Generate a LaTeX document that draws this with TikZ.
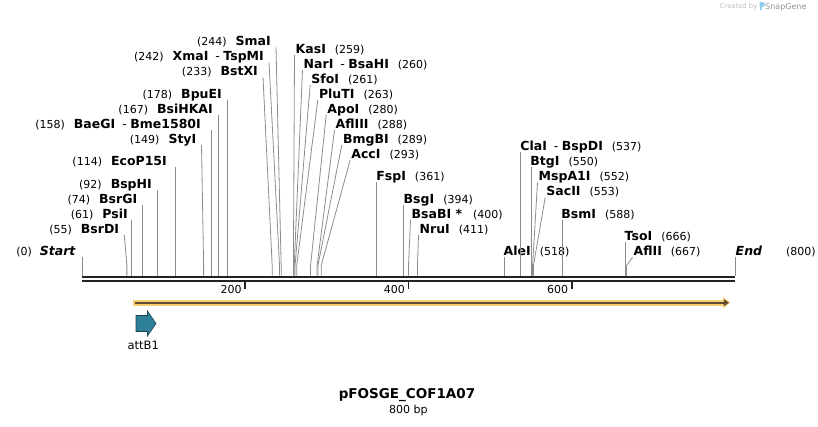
\documentclass[tikz,border=0pt]{standalone}
\usepackage{fontspec}
\setmainfont{DejaVu Sans}
\usetikzlibrary{arrows.meta}

\definecolor{cutgray}{RGB}{140,140,140}
\definecolor{axisdark}{RGB}{34,34,34}
\definecolor{orfyellow}{RGB}{250,204,112}
\definecolor{orfdark}{RGB}{92,76,48}
\definecolor{attteal}{RGB}{46,128,153}
\definecolor{attedge}{RGB}{30,70,85}
\definecolor{creditgray}{RGB}{190,190,190}
\definecolor{logoblue}{RGB}{142,205,240}

\newcommand{\sitepos}[1]{{\mdseries\fontsize{11}{13}\selectfont(#1)}}
\newcommand{\isosep}{\hspace{7pt}{\mdseries-}\hspace{3.5pt}}

\tikzset{
  site/.style={font=\fontsize{12.5}{14}\selectfont\bfseries, text depth=0pt, inner ysep=1.5pt},
  siteL/.style={site, anchor=south east, inner xsep=5pt},
  siteR/.style={site, anchor=south west, inner xsep=1pt},
  cutline/.style={draw=cutgray, line width=0.8pt},
  axisline/.style={draw=axisdark},
  tickmark/.style={draw=axisdark, line width=1.8pt},
  ticklab/.style={anchor=north east, inner sep=0pt, xshift=-3.5pt, yshift=-2.7pt, font=\fontsize{11}{13}\selectfont},
}

\begin{document}
\begin{tikzpicture}[x=1pt,y=-1pt]
\useasboundingbox (0,0) rectangle (818,426);

% positions on the sequence (bp)
\begin{scope}[shift={(82,275.7)},x=0.81625pt]
  \coordinate (p0) at (0,0);
  \coordinate (p55) at (55,0);
  \coordinate (p61) at (61,0);
  \coordinate (p74) at (74,0);
  \coordinate (p92) at (92,0);
  \coordinate (p114) at (114,0);
  \coordinate (p149) at (149,0);
  \coordinate (p158) at (158,0);
  \coordinate (p167) at (167,0);
  \coordinate (p178) at (178,0);
  \coordinate (p233) at (233,0);
  \coordinate (p242) at (242,0);
  \coordinate (p244) at (244,0);
  \coordinate (p259) at (259,0);
  \coordinate (p260) at (260,0);
  \coordinate (p261) at (261,0);
  \coordinate (p263) at (263,0);
  \coordinate (p280) at (280,0);
  \coordinate (p288) at (288,0);
  \coordinate (p289) at (289,0);
  \coordinate (p293) at (293,0);
  \coordinate (p361) at (361,0);
  \coordinate (p394) at (394,0);
  \coordinate (p400) at (400,0);
  \coordinate (p411) at (411,0);
  \coordinate (p518) at (518,0);
  \coordinate (p537) at (537,0);
  \coordinate (p550) at (550,0);
  \coordinate (p552) at (552,0);
  \coordinate (p553) at (553,0);
  \coordinate (p588) at (588,0);
  \coordinate (p666) at (666,0);
  \coordinate (p667) at (667,0);
  \coordinate (p800) at (800,0);
  \coordinate (ax0) at (0,1.3);
  \coordinate (ax1) at (800,1.3);
  \coordinate (bx0) at (0,5.6);
  \coordinate (bx1) at (800,5.6);
  \coordinate (t200) at (200,6.6);
  \coordinate (t400) at (400,6.6);
  \coordinate (t600) at (600,6.6);
  \coordinate (orfA) at (63,27);
  \coordinate (orfB) at (794,27);
\end{scope}

% sequence line
\draw[axisline, line width=2.7pt] (ax0) -- (ax1);
\draw[axisline, line width=2pt] (bx0) -- (bx1);
\draw[tickmark] (t200) -- ++(0,7);
\draw[tickmark] (t400) -- ++(0,7);
\draw[tickmark] (t600) -- ++(0,7);
\node[ticklab] (n200) at (t200) {200};
\node[ticklab] (n400) at (t400) {400};
\node[ticklab] (n600) at (t600) {600};

% left labels
\node[siteL] (lStart) at (81,257.4) {\sitepos{0}\hspace{8pt}\textit{Start}};
\draw[cutline] (p0) -- (p0 |- lStart.south east);
\node[siteL] (lBsrDI) at (124.3,234.9) {\sitepos{55}\hspace{9pt}BsrDI};
\draw[cutline] (p55) -- ++(0,-10) -- (lBsrDI.south east);
\node[siteL] (lPsiI) at (133,219.9) {\sitepos{61}\hspace{9pt}PsiI};
\draw[cutline] (p61) -- (p61 |- lPsiI.south east);
\node[siteL] (lBsrGI) at (142.4,204.9) {\sitepos{74}\hspace{9pt}BsrGI};
\draw[cutline] (p74) -- (p74 |- lBsrGI.south east);
\node[siteL] (lBspHI) at (157,189.9) {\sitepos{92}\hspace{9pt}BspHI};
\draw[cutline] (p92) -- (p92 |- lBspHI.south east);
\node[siteL] (lEcoP) at (172,167.4) {\sitepos{114}\hspace{9pt}EcoP15I};
\draw[cutline] (p114) -- (p114 |- lEcoP.south east);
\node[siteL] (lStyI) at (201.5,144.9) {\sitepos{149}\hspace{9pt}StyI};
\draw[cutline] (p149) -- ++(0,-10) -- (lStyI.south east);
\node[siteL] (lBaeGI) at (206,129.9) {\sitepos{158}\hspace{9pt}BaeGI\isosep Bme1580I};
\draw[cutline] (p158) -- (p158 |- lBaeGI.south east);
\node[siteL] (lBsiHKAI) at (218,114.9) {\sitepos{167}\hspace{9pt}BsiHKAI};
\draw[cutline] (p167) -- (p167 |- lBsiHKAI.south east);
\node[siteL] (lBpuEI) at (227,99.9) {\sitepos{178}\hspace{9pt}BpuEI};
\draw[cutline] (p178) -- (p178 |- lBpuEI.south east);
\node[siteL] (lBstXI) at (263,77.4) {\sitepos{233}\hspace{9pt}BstXI};
\draw[cutline] (p233) -- ++(0,-10) -- (lBstXI.south east);
\node[siteL] (lXmaI) at (269,62.4) {\sitepos{242}\hspace{9pt}XmaI\isosep TspMI};
\draw[cutline] (p242) -- ++(0,-10) -- (lXmaI.south east);
\node[siteL] (lSmaI) at (276,47.4) {\sitepos{244}\hspace{9pt}SmaI};
\draw[cutline] (p244) -- ++(0,-10) -- (lSmaI.south east);

% right labels
\node[siteR] (rKasI) at (294.5,54.9) {KasI\hspace{9pt}\sitepos{259}};
\draw[cutline] (p259) -- ++(0,-10) -- (rKasI.south west);
\node[siteR] (rNarI) at (302.5,69.9) {NarI\isosep BsaHI\hspace{9pt}\sitepos{260}};
\draw[cutline] (p260) -- ++(0,-10) -- (rNarI.south west);
\node[siteR] (rSfoI) at (310.2,84.9) {SfoI\hspace{9pt}\sitepos{261}};
\draw[cutline] (p261) -- ++(0,-10) -- (rSfoI.south west);
\node[siteR] (rPluTI) at (317.8,99.9) {PluTI\hspace{9pt}\sitepos{263}};
\draw[cutline] (p263) -- ++(0,-10) -- (rPluTI.south west);
\node[siteR] (rApoI) at (326.2,114.9) {ApoI\hspace{9pt}\sitepos{280}};
\draw[cutline] (p280) -- ++(0,-10) -- (rApoI.south west);
\node[siteR] (rAflIII) at (334.5,129.9) {AflIII\hspace{9pt}\sitepos{288}};
\draw[cutline] (p288) -- ++(0,-10) -- (rAflIII.south west);
\node[siteR] (rBmgBI) at (341.8,144.9) {BmgBI\hspace{9pt}\sitepos{289}};
\draw[cutline] (p289) -- ++(0,-10) -- (rBmgBI.south west);
\node[siteR] (rAccI) at (350.2,159.9) {AccI\hspace{9pt}\sitepos{293}};
\draw[cutline] (p293) -- ++(0,-10) -- (rAccI.south west);
\node[siteR] (rFspI) at (375.2,182.4) {FspI\hspace{9pt}\sitepos{361}};
\draw[cutline] (p361) -- (p361 |- rFspI.south west);
\node[siteR] (rBsgI) at (402.5,204.9) {BsgI\hspace{9pt}\sitepos{394}};
\draw[cutline] (p394) -- (p394 |- rBsgI.south west);
\node[siteR] (rBsaBI) at (410.5,219.9) {BsaBI *\hspace{11pt}\sitepos{400}};
\draw[cutline] (p400) -- ++(0,-10) -- (rBsaBI.south west);
\node[siteR] (rNruI) at (418.5,234.9) {NruI\hspace{9pt}\sitepos{411}};
\draw[cutline] (p411) -- ++(0,-10) -- (rNruI.south west);
\node[siteR] (rAleI) at (502.5,257.4) {AleI\hspace{9pt}\sitepos{518}};
\draw[cutline] (p518) -- (p518 |- rAleI.south west);
\node[siteR] (rClaI) at (519.2,152.4) {ClaI\isosep BspDI\hspace{9pt}\sitepos{537}};
\draw[cutline] (p537) -- (p537 |- rClaI.south west);
\node[siteR] (rBtgI) at (529.2,167.4) {BtgI\hspace{9pt}\sitepos{550}};
\draw[cutline] (p550) -- (p550 |- rBtgI.south west);
\node[siteR] (rMspA1I) at (537.5,182.4) {MspA1I\hspace{9pt}\sitepos{552}};
\draw[cutline] (p552) -- ++(0,-10) -- (rMspA1I.south west);
\node[siteR] (rSacII) at (545.2,197.4) {SacII\hspace{9pt}\sitepos{553}};
\draw[cutline] (p553) -- ++(0,-10) -- (rSacII.south west);
\node[siteR] (rBsmI) at (560.2,219.9) {BsmI\hspace{9pt}\sitepos{588}};
\draw[cutline] (p588) -- (p588 |- rBsmI.south west);
\node[siteR] (rTsoI) at (623.5,242.4) {TsoI\hspace{9pt}\sitepos{666}};
\draw[cutline] (p666) -- (p666 |- rTsoI.south west);
\node[siteR] (rAflII) at (632.5,257.4) {AflII\hspace{9pt}\sitepos{667}};
\draw[cutline] (p667) -- ++(0,-10) -- (rAflII.south west);
\node[siteR] (rEnd) at (734.5,257.4) {\textit{End}\hspace{24pt}\sitepos{800}};
\draw[cutline] (p800) -- (p800 |- rEnd.south west);

% ORF
\draw[orfyellow, line width=5.6pt, -{Triangle[length=7pt,width=11pt]}] (orfA) -- (orfB);
\draw[orfdark, line width=2.4pt, -{Triangle[length=5pt,width=6.5pt]}] ([xshift=2pt]orfA) -- ([xshift=-1.2pt]orfB);

% attB1 feature
\filldraw[fill=attteal, draw=attedge, line width=0.6pt] (136,315.5) -- (147.5,315.5) -- (147.5,311) -- (156,323.5) -- (147.5,336) -- (147.5,331.5) -- (136,331.5) -- cycle;
\node[font=\fontsize{11.5}{13}\selectfont] (attB1) at (143.3,345) {attB1};

% name and size
\node[font=\fontsize{13.5}{16}\selectfont\bfseries] (title) at (407,395) {pFOSGE\_COF1A07};
\node[font=\fontsize{11}{13}\selectfont] (size) at (408.3,410.7) {800 bp};

% credit
\node[font=\fontsize{6.8}{8}\selectfont, text=creditgray, inner sep=0pt, anchor=east] (made) at (757.5,7) {Created by};
\fill[logoblue] (759.6,2) rectangle (761.8,10.2);
\fill[logoblue] (759.6,2) -- (762.5,2) arc[start angle=90, end angle=-90, radius=2.4pt] -- (759.6,6.8) -- cycle;
\node[font=\fontsize{8}{10}\selectfont, text=gray!85, inner sep=0pt, anchor=west] (sg) at (765,7) {SnapGene};
\end{tikzpicture}
\end{document}
